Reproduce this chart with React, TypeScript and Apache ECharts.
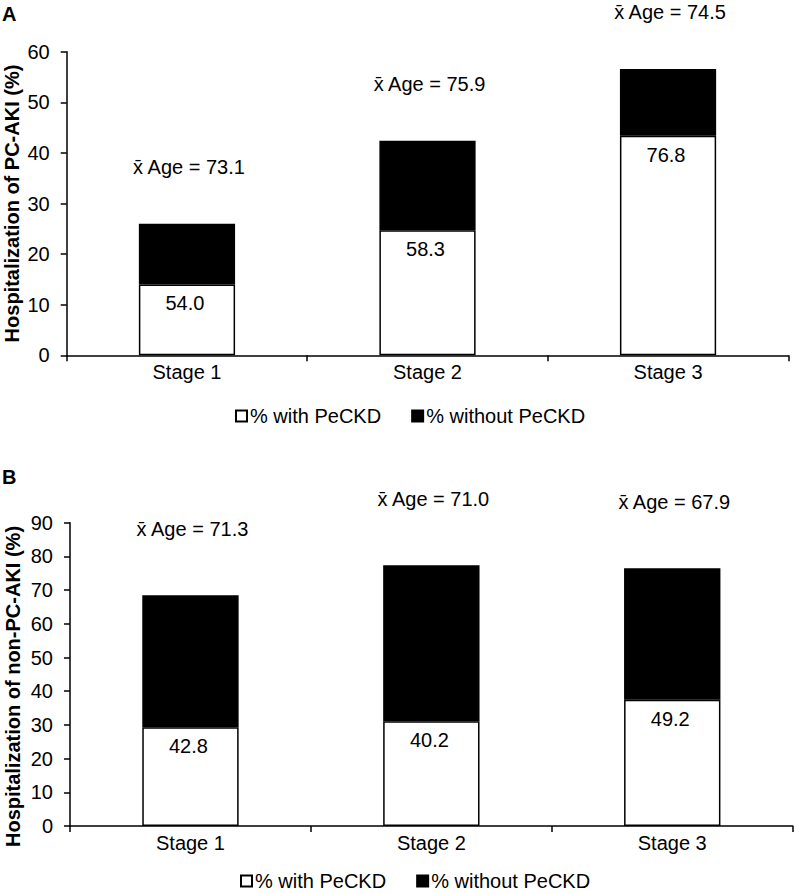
import React, { useEffect, useRef } from "react";
import * as echarts from "echarts";

const categories = ["Stage 1", "Stage 2", "Stage 3"];

// Panel A: PC-AKI
const withA = [14.0, 24.7, 43.4];
const withoutA = [12.0, 17.7, 13.2];
const pctA = ["54.0", "58.3", "76.8"];
const ageA = ["73.1", "75.9", "74.5"];
const ticksA = { max: 60, interval: 10 };

// Panel B: non-PC-AKI
const withB = [29.3, 31.1, 37.5];
const withoutB = [39.2, 46.3, 39.0];
const pctB = ["42.8", "40.2", "49.2"];
const ageB = ["71.3", "71.0", "67.9"];
const ticksB = { max: 90, interval: 10 };

const seriesNames = ["% with PeCKD", "% without PeCKD"];
const yTitles = ["Hospitalization of PC-AKI (%)", "Hospitalization of non-PC-AKI (%)"];
const panelLetters = ["A", "B"];

const FONT = "'Liberation Sans', Arial, Helvetica, sans-serif";

export default function App() {
  const ref = useRef<HTMLDivElement>(null);

  useEffect(() => {
    if (!ref.current) return;
    const chart = echarts.init(ref.current, null, { renderer: "svg" });

    const axisLineStyle = { color: "#000", width: 1.5 };
    const labelStyle = { color: "#000", fontSize: 20, fontFamily: FONT };

    const makeX = (gridIndex: number) => ({
      type: "category",
      gridIndex,
      data: categories,
      boundaryGap: true,
      axisLine: { show: true, lineStyle: axisLineStyle },
      axisTick: { show: true, length: 6, inside: false, lineStyle: axisLineStyle },
      axisLabel: { ...labelStyle, margin: 7 },
      splitLine: { show: false },
    });
    const makeY = (gridIndex: number, t: { max: number; interval: number }) => ({
      type: "value",
      gridIndex,
      min: 0,
      max: t.max,
      interval: t.interval,
      axisLine: { show: true, lineStyle: axisLineStyle },
      axisTick: { show: true, length: 6, inside: false, lineStyle: axisLineStyle },
      axisLabel: { ...labelStyle, margin: 17 },
      splitLine: { show: false },
    });

    const makeSeries = (
      idx: number,
      withVals: number[],
      withoutVals: number[],
      pcts: string[],
      ages: string[],
      ageDist: number
    ) => [
      {
        name: seriesNames[0],
        type: "bar",
        stack: "s" + idx,
        xAxisIndex: idx,
        yAxisIndex: idx,
        barWidth: "40%",
        data: withVals,
        itemStyle: { color: "#fff", borderColor: "#000", borderWidth: 1.5 },
        label: {
          show: true,
          position: "insideTop",
          distance: 9,
          offset: [-2, 0],
          color: "#000",
          fontSize: 20,
          fontFamily: FONT,
          formatter: (p: any) => pcts[p.dataIndex],
        },
      },
      {
        name: seriesNames[1],
        type: "bar",
        stack: "s" + idx,
        xAxisIndex: idx,
        yAxisIndex: idx,
        barWidth: "40%",
        data: withoutVals,
        itemStyle: { color: "#000", borderColor: "#000", borderWidth: 1.5 },
        label: {
          show: true,
          position: "top",
          distance: ageDist,
          offset: [2, 0],
          color: "#000",
          fontSize: 20,
          fontFamily: FONT,
          formatter: (p: any) => "x\u0304 Age = " + ages[p.dataIndex],
        },
      },
    ];

    const legendBase = {
      orient: "horizontal",
      padding: 0,
      itemWidth: 11,
      itemHeight: 11,
      itemGap: 30,
      icon: "rect",
      selectedMode: false,
      textStyle: { color: "#000", fontSize: 20, fontFamily: FONT, padding: [0, 0, 0, -2] },
      data: seriesNames,
    };

    chart.setOption({
      animation: false,
      backgroundColor: "#fff",
      grid: [
        { left: 66.7, top: 51.7, width: 721.6, height: 303.6 },
        { left: 70, top: 522.7, width: 722.7, height: 303.3 },
      ],
      xAxis: [makeX(0), makeX(1)],
      yAxis: [makeY(0, ticksA), makeY(1, ticksB)],
      legend: [
        { ...legendBase, left: 235, top: 406 },
        { ...legendBase, left: 240, top: 871 },
      ],
      series: [
        ...makeSeries(0, withA, withoutA, pctA, ageA, 47),
        ...makeSeries(1, withB, withoutB, pctB, ageB, 56),
      ],
      graphic: [
        {
          type: "text",
          left: 2,
          top: 4,
          style: { text: panelLetters[0], fontSize: 20, fontWeight: "bold", fontFamily: FONT, fill: "#000" },
        },
        {
          type: "text",
          left: 2,
          top: 467,
          style: { text: panelLetters[1], fontSize: 20, fontWeight: "bold", fontFamily: FONT, fill: "#000" },
        },
        {
          type: "text",
          x: 12,
          y: 203.5,
          rotation: Math.PI / 2,
          style: {
            text: yTitles[0],
            fontSize: 20,
            fontWeight: "bold",
            fontFamily: FONT,
            fill: "#000",
            align: "center",
            verticalAlign: "middle",
          },
        },
        {
          type: "text",
          x: 12.5,
          y: 686.5,
          rotation: Math.PI / 2,
          style: {
            text: yTitles[1],
            fontSize: 20,
            fontWeight: "bold",
            fontFamily: FONT,
            fill: "#000",
            align: "center",
            verticalAlign: "middle",
          },
        },
      ],
    });

    return () => chart.dispose();
  }, []);

  return (
    <div
      ref={ref}
      style={{ position: "absolute", left: 0, top: 0, width: 794, height: 894, background: "#fff" }}
    />
  );
}
